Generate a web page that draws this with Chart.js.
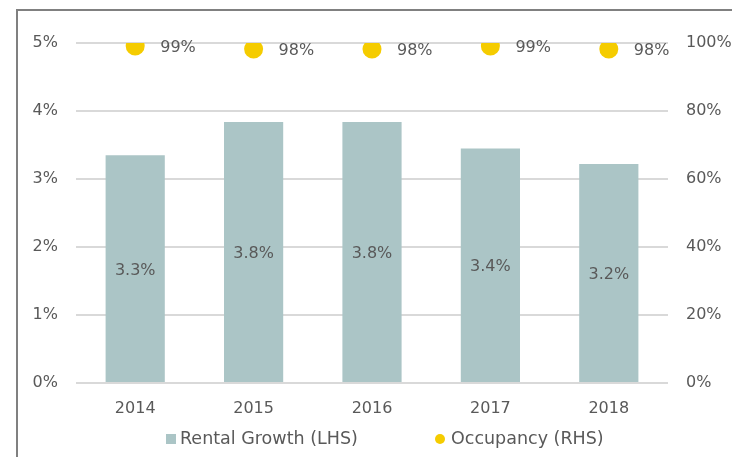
<!DOCTYPE html>
<html><head><meta charset="utf-8">
<script src="https://cdn.jsdelivr.net/npm/chart.js@4/dist/chart.umd.min.js"></script>
<style>
html,body{margin:0;padding:0;background:#fff;}
#wrap{position:relative;width:732px;height:457px;}
#frame{position:absolute;left:16px;top:9px;width:740px;height:460px;border-left:2px solid #808080;border-top:2px solid #808080;box-sizing:border-box;pointer-events:none;}
canvas{position:absolute;left:0;top:0;}
</style></head>
<body><div id="wrap"><canvas id="c" width="732" height="457"></canvas><div id="frame"></div></div>
<script>
const years = ['2014','2015','2016','2017','2018'];
const rentalGrowth = [3.35, 3.84, 3.84, 3.45, 3.22];
const rentalLabels = ['3.3%','3.8%','3.8%','3.4%','3.2%'];
const occupancy = [99.1, 98.2, 98.2, 99.1, 98.2];
const occupancyLabels = ['99%','98%','98%','99%','98%'];
const leftTicks = [0,1,2,3,4,5];
const rightTicks = [0,20,40,60,80,100];
const seriesNames = ['Rental Growth (LHS)','Occupancy (RHS)'];

const FONT = "'DejaVu Sans', sans-serif";
const TXT = '#595959';
const BAR = '#abc5c6';
const DOT = '#f5cc00';

const labelPlugin = {
  id:'valueLabels',
  afterDatasetsDraw(chart){
    const ctx = chart.ctx;
    ctx.save();
    ctx.font = '16px ' + FONT;
    ctx.fillStyle = TXT;
    ctx.textBaseline = 'middle';
    chart.getDatasetMeta(0).data.forEach((b,i)=>{
      ctx.textAlign='center';
      ctx.fillText(rentalLabels[i], b.x, (b.y + b.base)/2 + 2);
    });
    chart.getDatasetMeta(1).data.forEach((p,i)=>{
      ctx.textAlign='left';
      ctx.fillText(occupancyLabels[i], p.x + 25, p.y + 2);
    });
    ctx.restore();
  },
  afterDraw(chart){
    const ctx = chart.ctx;
    ctx.save();
    ctx.font = '17.5px ' + FONT;
    ctx.textBaseline = 'middle';
    ctx.textAlign = 'left';
    const y = 439;
    ctx.fillStyle = BAR;
    ctx.fillRect(166, y-5, 10, 10);
    ctx.fillStyle = TXT;
    ctx.fillText(seriesNames[0], 180, y);
    ctx.fillStyle = DOT;
    ctx.beginPath(); ctx.arc(440, y, 5, 0, Math.PI*2); ctx.fill();
    ctx.fillStyle = TXT;
    ctx.fillText(seriesNames[1], 451, y);
    ctx.restore();
  }
};

new Chart(document.getElementById('c'), {
  data:{
    labels: years,
    datasets:[
      {type:'bar', label:seriesNames[0], data: rentalGrowth, yAxisID:'y',
       backgroundColor:BAR, barPercentage:0.5, categoryPercentage:1.0, order:2},
      {type:'line', label:seriesNames[1], data: occupancy, yAxisID:'y1', showLine:false,
       pointRadius:9.5, pointHoverRadius:9.5, pointBackgroundColor:DOT, pointBorderWidth:0,
       borderColor:DOT, backgroundColor:DOT, order:1}
    ]
  },
  plugins:[labelPlugin],
  options:{
    responsive:false, animation:false,
    layout:{padding:{top:43, left:0, right:0, bottom:34}},
    plugins:{ tooltip:{enabled:false}, legend:{display:false} },
    scales:{
      x:{grid:{display:false, drawTicks:false}, border:{display:false},
         ticks:{font:{family:FONT,size:16}, color:TXT, padding:16},
         afterFit(s){ s.height = 40; }},
      y:{position:'left', min:0, max:5,
         afterBuildTicks(s){ s.ticks = leftTicks.map(v=>({value:v})); },
         grid:{color:'#d9d9d9', lineWidth:2, drawTicks:false},
         border:{display:false},
         ticks:{font:{family:FONT,size:16}, color:TXT, padding:18, callback:v=>v+'%'},
         afterFit(s){ s.width = 76; }},
      y1:{position:'right', min:0, max:100,
         afterBuildTicks(s){ s.ticks = rightTicks.map(v=>({value:v})); },
         grid:{display:false, drawTicks:false}, border:{display:false},
         ticks:{font:{family:FONT,size:16}, color:TXT, padding:18, callback:v=>v+'%'},
         afterFit(s){ s.width = 64; }}
    }
  }
});
</script></body></html>
